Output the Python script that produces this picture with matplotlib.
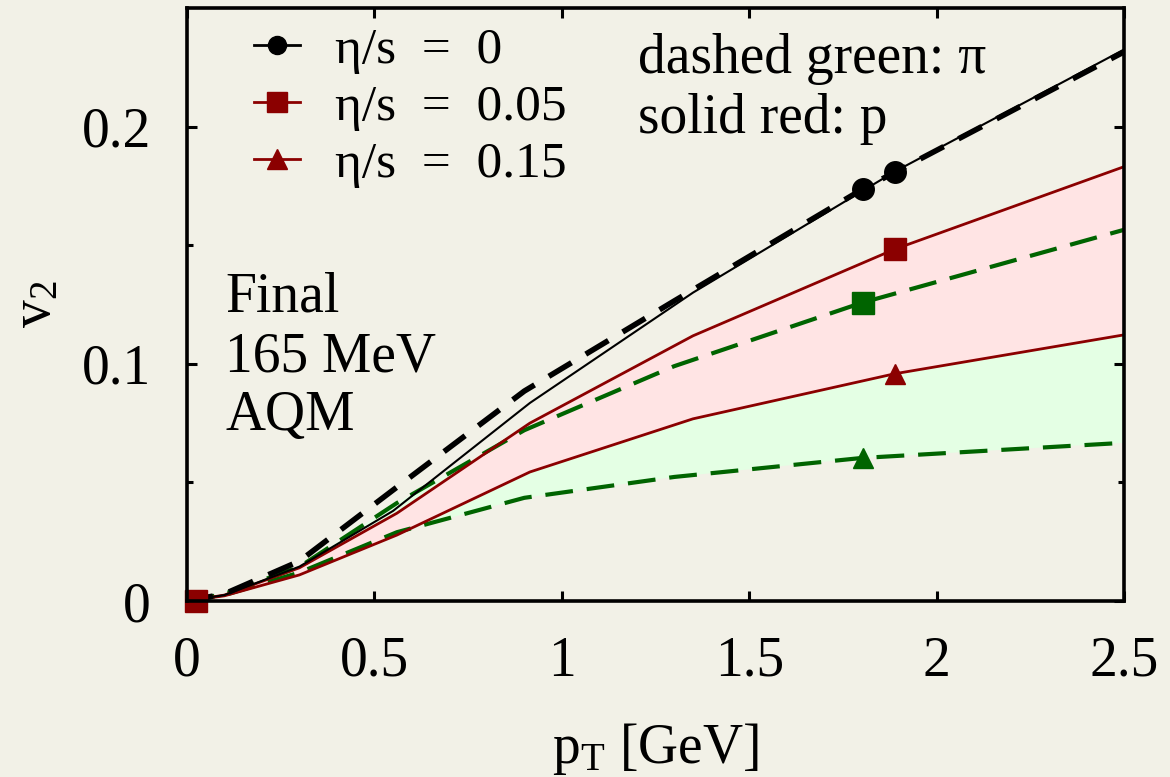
import numpy as np
import matplotlib
matplotlib.use("Agg")
import matplotlib.pyplot as plt
from matplotlib.lines import Line2D

plt.rcParams['font.family'] = ['Liberation Serif', 'DejaVu Serif']
plt.rcParams['mathtext.fontset'] = 'custom'
plt.rcParams['mathtext.rm'] = 'Liberation Serif'
plt.rcParams['mathtext.it'] = 'Liberation Serif:italic'
plt.rcParams['lines.scale_dashes'] = False

# ---- data: elliptic flow v2 vs pT ----
# ideal hydro (eta/s = 0)
pt_pi_ideal = [0.0, 0.1, 0.3, 0.55, 0.9, 1.3, 1.8, 2.5]
v2_pi_ideal = [0.0, 0.003, 0.0168, 0.0468, 0.0885, 0.1265, 0.1734, 0.2315]
pt_p_ideal = [0.0, 0.1, 0.3, 0.55, 0.915, 1.35, 1.888, 2.5]
v2_p_ideal = [0.0, 0.0025, 0.0145, 0.038, 0.0835, 0.130, 0.181, 0.2325]

# pions (dashed green): eta/s = 0.05 and 0.15
pt_pi = [0.0, 0.1, 0.3, 0.56, 0.9, 1.3, 1.8, 2.5]
v2_pi_005 = [0.0, 0.003, 0.0144, 0.0413, 0.072, 0.099, 0.1257, 0.1565]
v2_pi_015 = [0.0, 0.0025, 0.012, 0.029, 0.0435, 0.0523, 0.0603, 0.0667]

# protons (solid red): eta/s = 0.05 and 0.15
pt_p = [0.0, 0.1, 0.3, 0.56, 0.915, 1.35, 1.888, 2.5]
v2_p_005 = [0.0, 0.0025, 0.014, 0.037, 0.075, 0.1118, 0.1483, 0.1831]
v2_p_015 = [0.0, 0.0022, 0.011, 0.0278, 0.0544, 0.0768, 0.0958, 0.1122]

# marked points
pt_mark_pi = 1.803
pt_mark_p = 1.888
pt_origin_mark = 0.023

legend_labels = ["η/s  =  0", "η/s  =  0.05", "η/s  =  0.15"]

BG = '#f2f1e7'
RED = '#8b0000'
GREEN = '#006400'
PINK = '#ffe4e4'
LGREEN = '#e4ffe4'

fig = plt.figure(figsize=(11.7, 7.77), dpi=100, facecolor=BG)
ax = fig.add_axes([0.1598, 0.2265, 0.8009, 0.7632])
ax.set_facecolor(BG)

# bands
ax.fill(np.concatenate([pt_pi, pt_pi[::-1]]),
        np.concatenate([v2_pi_005, v2_pi_015[::-1]]),
        color=LGREEN, lw=0, zorder=1)
ax.fill(np.concatenate([pt_p, pt_p[::-1]]),
        np.concatenate([v2_p_005, v2_p_015[::-1]]),
        color=PINK, lw=0, zorder=2)

# curves
ax.plot(pt_pi, v2_pi_015, color=GREEN, lw=3.0, dashes=(20, 10), zorder=3)
ax.plot(pt_pi, v2_pi_005, color=GREEN, lw=3.0, dashes=(20, 10), zorder=3)
ax.plot(pt_p, v2_p_015, color=RED, lw=2.0, zorder=4)
ax.plot(pt_p, v2_p_005, color=RED, lw=2.0, zorder=4)
ax.plot(pt_p_ideal, v2_p_ideal, color='black', lw=1.5, zorder=5)
ax.plot(pt_pi_ideal, v2_pi_ideal, color='black', lw=4.0, dashes=(19, 12), zorder=5)

# markers on the curves
ms = 15.5
ax.plot([pt_mark_pi], [np.interp(pt_mark_pi, pt_pi_ideal, v2_pi_ideal)], 'o', color='black', ms=ms, zorder=6)
ax.plot([pt_mark_p], [np.interp(pt_mark_p, pt_p_ideal, v2_p_ideal)], 'o', color='black', ms=ms, zorder=6)
ax.plot([pt_mark_pi], [np.interp(pt_mark_pi, pt_pi, v2_pi_005)], 's', color=GREEN, ms=ms, zorder=6)
ax.plot([pt_mark_p], [np.interp(pt_mark_p, pt_p, v2_p_005)], 's', color=RED, ms=ms, zorder=6)
ax.plot([pt_mark_pi], [np.interp(pt_mark_pi, pt_pi, v2_pi_015)], '^', color=GREEN, ms=14, zorder=6)
ax.plot([pt_mark_p], [np.interp(pt_mark_p, pt_p, v2_p_015)], '^', color=RED, ms=14, zorder=6)
ax.plot([pt_origin_mark], [0.0], 's', color=RED, ms=ms, zorder=7, clip_on=False)

ax.set_xlim(0, 2.5)
ax.set_ylim(0, 0.25)
ax.set_xticks([0, 0.5, 1, 1.5, 2, 2.5])
ax.set_xticklabels(['0', '0.5', '1', '1.5', '2', '2.5'])
ax.set_yticks([0, 0.1, 0.2])
ax.set_yticklabels(['0', '0.1', '0.2'])
ax.set_yticks([0.05, 0.15], minor=True)

for s in ax.spines.values():
    s.set_linewidth(2.6)
    s.set_zorder(10)
ax.tick_params(which='major', direction='in', length=7.5, width=2.2, top=True, right=True,
               labelsize=40, pad=26)
ax.tick_params(axis='x', which='major', pad=25)
ax.tick_params(which='minor', direction='in', length=4, width=2.2, top=True, right=True)

ax.set_xlabel(r"$\mathregular{p_T}$ [GeV]", fontsize=40, labelpad=24)
ax.set_ylabel(r"$\mathregular{v_2}$", fontsize=40, labelpad=14)

# legend
handles = [
    Line2D([], [], color='black', lw=2, marker='o', ms=13),
    Line2D([], [], color=RED, lw=2, marker='s', ms=15),
    Line2D([], [], color=RED, lw=2, marker='^', ms=15),
]
leg = ax.legend(handles, legend_labels, loc='upper left', fontsize=37, frameon=False,
                bbox_to_anchor=(254 / 1170, 1 - 27 / 777), bbox_transform=fig.transFigure,
                borderpad=0, borderaxespad=0, handlelength=0.9, handletextpad=0.68,
                labelspacing=0.2)
leg.set_zorder(12)

# annotations
ax.text(638 / 1170, 1 - 73 / 777, "dashed green: π", transform=fig.transFigure,
        fontsize=40, ha='left', va='baseline', zorder=12)
ax.text(638 / 1170, 1 - 133 / 777, "solid red: p", transform=fig.transFigure,
        fontsize=40, ha='left', va='baseline', zorder=12)
for txt, yb in [("Final", 312), ("165 MeV", 372), ("AQM", 430)]:
    ax.text(225 / 1170, 1 - yb / 777, txt, transform=fig.transFigure,
            fontsize=40, ha='left', va='baseline', zorder=12)

fig.savefig("out.png", dpi=100, facecolor=BG)
